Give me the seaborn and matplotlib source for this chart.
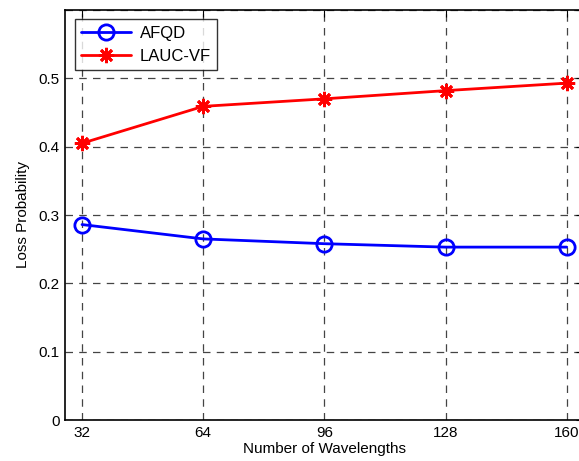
import matplotlib
matplotlib.use("Agg")
import matplotlib.pyplot as plt
import pandas as pd
import seaborn as sns

sns.set_style("white")
plt.rcParams['font.family'] = ['Liberation Sans', 'DejaVu Sans']
plt.rcParams['text.color'] = 'black'
plt.rcParams['axes.labelcolor'] = 'black'
plt.rcParams['xtick.color'] = 'black'
plt.rcParams['ytick.color'] = 'black'

wavelengths = [32, 64, 96, 128, 160]
afqd = [0.286, 0.265, 0.258, 0.253, 0.253]
lauc_vf = [0.405, 0.459, 0.470, 0.482, 0.493]
y_ticks = [0, 0.1, 0.2, 0.3, 0.4, 0.5, 0.6]
y_labels = ['0', '0.1', '0.2', '0.3', '0.4', '0.5', '']

df = pd.DataFrame({'Wavelengths': wavelengths, 'AFQD': afqd, 'LAUC-VF': lauc_vf})

fig = plt.figure(figsize=(5.79, 4.61), dpi=100)
# right edge of the axes sits just past the figure border, as in the reference
ax = fig.add_axes([65/579, 41/461, 518/579, 410/461])

sns.lineplot(data=df, x='Wavelengths', y='AFQD', ax=ax, color='#0000ff', lw=2,
             marker='o', markersize=11, markerfacecolor='none', markeredgecolor='#0000ff',
             markeredgewidth=2, label='AFQD')
sns.lineplot(data=df, x='Wavelengths', y='LAUC-VF', ax=ax, color='#ff0000', lw=2,
             marker=(8, 2, 0), markersize=11, markerfacecolor='#ff0000', markeredgecolor='#ff0000',
             markeredgewidth=2, label='LAUC-VF')

ax.set_xlim(27.5, 164.3)
ax.set_ylim(0, 0.6)
ax.set_xticks(wavelengths)
ax.set_yticks(y_ticks)
ax.set_yticklabels(y_labels)
ax.grid(True, color='#444444', linestyle=(0, (6, 5)), lw=0.9)
ax.tick_params(direction='in', length=5, width=0.8, labelsize=11,
               top=True, right=True, pad=4)
for s in ax.spines.values():
    s.set_color('black')
    s.set_linewidth(1.2)

ax.set_xlabel('Number of Wavelengths', fontsize=11, labelpad=2)
ax.set_ylabel('Loss Probability', fontsize=11, labelpad=6)

leg = ax.legend(loc='upper left', bbox_to_anchor=(0.012, 0.985), fontsize=12,
                frameon=True, fancybox=False, edgecolor='black', handlelength=3.0,
                borderaxespad=0.2, labelspacing=0.45, borderpad=0.4, handletextpad=0.5)
leg.get_frame().set_linewidth(1.0)

fig.savefig('out.png', dpi=100)
